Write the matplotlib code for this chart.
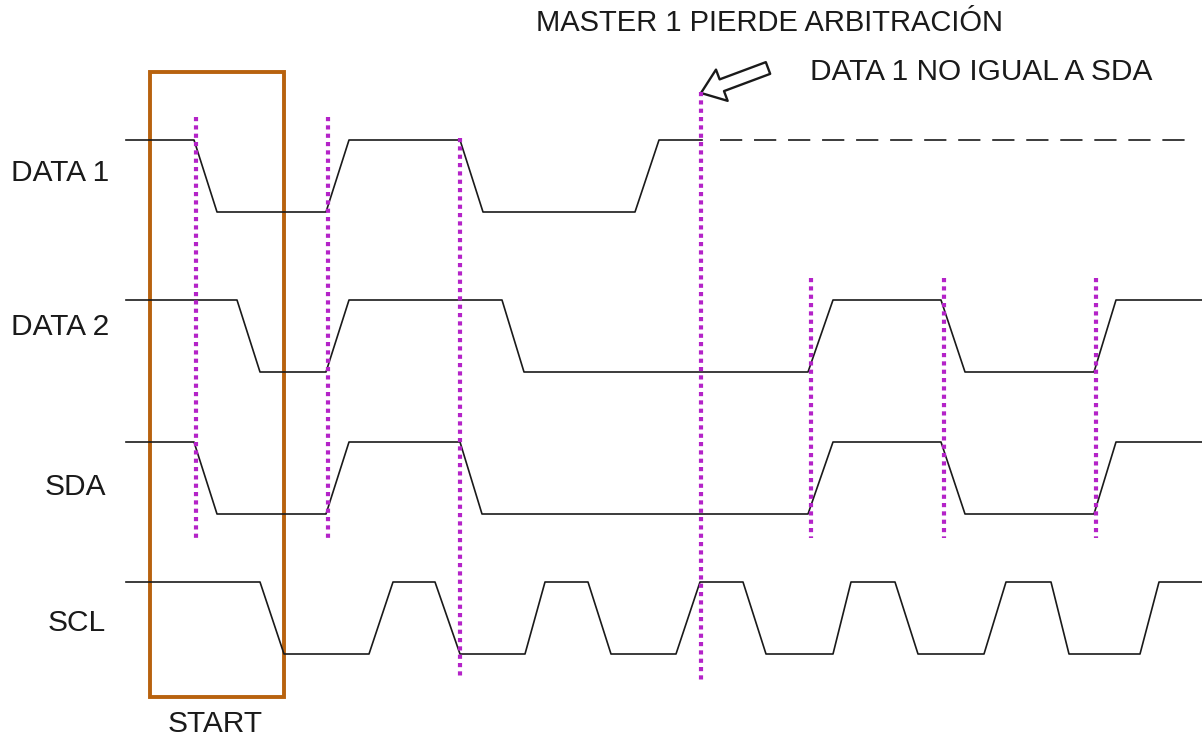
import matplotlib
matplotlib.use("Agg")
import matplotlib.pyplot as plt
from matplotlib.patches import Rectangle, FancyArrowPatch

plt.rcParams['font.family'] = ['Liberation Sans', 'DejaVu Sans']
plt.rcParams['lines.scale_dashes'] = False

# signal edges (x of each vertex, pixel units of the original drawing) and logic level
data1_t = [126, 194, 217, 326, 349, 460, 483, 635, 659, 702]
data1_lvl = [1, 1, 0, 0, 1, 1, 0, 0, 1, 1]
data1_lost_t = [720, 1190]  # dashed continuation after losing arbitration
data1_lost_lvl = [1, 1]

data2_t = [126, 237, 260, 326, 349, 502, 524, 808, 833, 941, 965, 1094, 1116, 1202]
data2_lvl = [1, 1, 0, 0, 1, 1, 0, 0, 1, 1, 0, 0, 1, 1]

sda_t = [126, 194, 217, 326, 349, 460, 482, 808, 833, 941, 965, 1094, 1116, 1202]
sda_lvl = [1, 1, 0, 0, 1, 1, 0, 0, 1, 1, 0, 0, 1, 1]

scl_t = [126, 260, 284, 369, 393, 435, 460, 525, 545, 588, 611, 676, 700, 743,
         766, 833, 851, 895, 918, 984, 1006, 1051, 1069, 1140, 1159, 1202]
scl_lvl = [1, 1, 0, 0, 1, 1, 0, 0, 1, 1, 0, 0, 1, 1, 0, 0, 1, 1, 0, 0, 1, 1, 0, 0, 1, 1]

signal_names = ['DATA 1', 'DATA 2', 'SDA', 'SCL']

# sampling marks (dotted magenta verticals): x, top, bottom
mark_x = [196, 328, 460, 701, 811, 944, 1096]
mark_top = [117, 117, 138, 92, 278, 278, 278]
mark_bot = [542, 542, 678, 682, 538, 538, 538]

# layout: low-level y of each trace and swing
LOW_Y = [212, 372, 514, 654]
SWING = 72
LABEL_X = [11, 11, 45, 48]
LABEL_Y = [173, 327, 487, 623]
INK = '#1a1a1a'
MAGENTA = '#b423c8'
BROWN = '#b8620e'

fig = plt.figure(figsize=(12.02, 7.42), dpi=100)
ax = fig.add_axes([0, 0, 1, 1])
ax.set_xlim(0, 1202)
ax.set_ylim(742, 0)
ax.axis('off')


def ypos(levels, row):
    return [LOW_Y[row] - SWING * l for l in levels]


#traces
ax.plot(data1_t, ypos(data1_lvl, 0), color=INK, lw=1.2)
ax.plot(data1_lost_t, ypos(data1_lost_lvl, 0), color=INK, lw=1.2, dashes=(16, 8.5))
ax.plot(data2_t, ypos(data2_lvl, 1), color=INK, lw=1.2)
ax.plot(sda_t, ypos(sda_lvl, 2), color=INK, lw=1.2)
ax.plot(scl_t, ypos(scl_lvl, 3), color=INK, lw=1.2)

#dotted sampling lines
for x, t, b in zip(mark_x, mark_top, mark_bot):
    ax.plot([x, x], [t, b], color=MAGENTA, lw=3, dashes=(3, 3), solid_capstyle='butt',
            dash_capstyle='butt')

#START box
ax.add_patch(Rectangle((150, 72), 134, 625, fill=False, edgecolor=BROWN, lw=2.8))
ax.text(215, 724, 'START', ha='center', va='center', fontsize=21.5, color=INK)

#labels
for name, lx, ly in zip(signal_names, LABEL_X, LABEL_Y):
    ax.text(lx, ly, name, ha='left', va='center', fontsize=21.5, color=INK)

#annotation
ax.text(536, 23, 'MASTER 1 PIERDE ARBITRACIÓN', ha='left', va='center', fontsize=21, color=INK)
ax.text(810, 72, 'DATA 1 NO IGUAL A SDA', ha='left', va='center', fontsize=21.5, color=INK)
arrow = FancyArrowPatch((768, 68), (701, 93),
                        arrowstyle='simple,head_length=16,head_width=24,tail_width=9',
                        mutation_scale=1, shrinkA=0, shrinkB=0,
                        facecolor='white', edgecolor=INK, lw=1.7)
ax.add_patch(arrow)

fig.savefig('out.png', dpi=100)
